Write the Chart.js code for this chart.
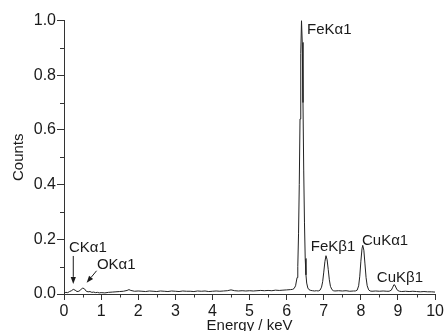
<!DOCTYPE html>
<html><head><meta charset="utf-8">
<script src="https://cdn.jsdelivr.net/npm/chart.js@4/dist/chart.umd.min.js"></script>
<style>html,body{margin:0;padding:0;background:#fff;overflow:hidden}canvas{display:block}</style>
</head><body>
<canvas id="c" width="446" height="331"></canvas>
<script>
// ---- data ----
const energy = [
  0.00,0.05,0.10,0.15,0.20,0.25,0.30,0.35,0.40,0.45,0.50,0.55,0.60,0.65,0.70,0.75,0.80,0.85,0.90,0.95,1.00,
  1.10,1.20,1.30,1.40,1.50,1.60,1.70,1.75,1.80,1.90,2.00,
  2.10,2.20,2.30,2.40,2.50,2.60,2.70,2.80,2.90,3.00,3.10,3.20,3.30,3.40,3.50,3.60,3.70,3.80,3.90,4.00,
  4.10,4.20,4.30,4.40,4.50,4.60,4.70,4.80,4.90,5.00,5.10,5.20,5.30,5.40,5.50,5.60,5.70,5.80,5.90,6.00,6.10,
  6.16,6.20,6.24,6.28,6.30,6.32,6.34,6.36,6.38,6.40,6.42,6.44,6.46,6.48,6.50,6.52,6.54,6.57,6.60,
  6.65,6.70,6.75,6.80,6.85,
  6.90,6.94,6.97,7.00,7.03,7.06,7.09,7.12,7.15,7.18,7.22,7.26,7.30,
  7.40,7.50,7.60,7.70,7.80,
  7.85,7.90,7.94,7.97,8.00,8.03,8.05,8.08,8.11,8.14,8.17,8.21,8.25,
  8.30,8.40,8.50,8.60,8.70,
  8.76,8.82,8.86,8.89,8.92,8.95,8.99,9.04,
  9.10,9.20,9.30,9.40,9.50,9.60,9.70,9.80,9.90,10.00
];
const counts = [
  0.003,0.006,0.005,0.009,0.012,0.017,0.014,0.009,0.010,0.015,0.022,0.019,0.010,0.008,0.009,0.006,0.007,0.005,0.006,0.004,0.005,
  0.004,0.006,0.007,0.008,0.009,0.010,0.013,0.016,0.013,0.010,0.011,
  0.010,0.009,0.011,0.010,0.009,0.011,0.010,0.009,0.011,0.010,0.009,0.011,0.010,0.010,0.009,0.011,0.010,0.011,0.009,0.010,
  0.011,0.010,0.011,0.012,0.015,0.012,0.011,0.012,0.011,0.012,0.011,0.012,0.013,0.012,0.013,0.012,0.014,0.013,0.014,0.015,0.016,
  0.017,0.020,0.030,0.060,0.100,0.220,0.400,0.640,0.880,1.000,0.920,0.700,0.450,0.260,0.130,0.070,0.040,0.022,0.016,
  0.013,0.012,0.011,0.012,0.011,
  0.014,0.025,0.045,0.080,0.118,0.140,0.125,0.090,0.052,0.028,0.016,0.012,0.011,
  0.012,0.011,0.012,0.010,0.011,
  0.011,0.014,0.030,0.065,0.120,0.165,0.178,0.160,0.110,0.060,0.030,0.015,0.011,
  0.010,0.011,0.010,0.011,0.010,
  0.010,0.014,0.025,0.034,0.032,0.022,0.013,0.010,
  0.009,0.010,0.009,0.010,0.009,0.008,0.009,0.008,0.008,0.007
];
const xMinorTicks = [0.5,1.5,2.5,3.5,4.5,5.5,6.5,7.5,8.5,9.5];
const yMinorTicks = [0.1,0.3,0.5,0.7,0.9];
const peakNames = ['CKα1','OKα1','FeKα1','FeKβ1','CuKα1','CuKβ1'];
// label anchors (left, baseline) in data units
const peakLabelX = [0.134, 0.886, 6.55, 6.65, 8.03, 8.43];
const peakLabelY = [0.155, 0.092, 0.951, 0.157, 0.179, 0.045];
// arrows: [x1,y1,x2,y2] in data units, head at (x2,y2)
const arrows = [[0.25,0.139,0.25,0.037],[0.878,0.085,0.61,0.041]];

const FONT = '"Liberation Sans", Arial, Helvetica, sans-serif';
const INK = '#1a1a1a';

const points = energy.map((e,i)=>({x:e, y:counts[i]}));

const extras = {
  id:'extras',
  afterDraw(chart){
    const {ctx, scales:{x,y}} = chart;
    ctx.save();
    ctx.strokeStyle = '#333'; ctx.lineWidth = 1;
    ctx.beginPath();
    const yb = Math.round(y.bottom);
    for (const v of xMinorTicks){
      const px = Math.round(x.getPixelForValue(v)) + 0.5;
      ctx.moveTo(px, yb); ctx.lineTo(px, yb + 3.5);
    }
    const xl = Math.round(x.left);
    for (const v of yMinorTicks){
      const py = Math.round(y.getPixelForValue(v)) + 0.5;
      ctx.moveTo(xl, py); ctx.lineTo(xl - 4, py);
    }
    ctx.stroke();
    // labels
    ctx.fillStyle = INK;
    ctx.font = '15px ' + FONT;
    ctx.textAlign = 'left'; ctx.textBaseline = 'alphabetic';
    peakNames.forEach((t,i)=>{
      ctx.fillText(t, x.getPixelForValue(peakLabelX[i]), y.getPixelForValue(peakLabelY[i]));
    });
    // arrows
    ctx.strokeStyle = INK; ctx.fillStyle = INK;
    arrows.forEach(a=>{
      const x1 = x.getPixelForValue(a[0]), y1 = y.getPixelForValue(a[1]);
      const x2 = x.getPixelForValue(a[2]), y2 = y.getPixelForValue(a[3]);
      const ang = Math.atan2(y2-y1, x2-x1);
      const hl = 7, hw = 2.6;
      const bx = x2 - hl*Math.cos(ang), by = y2 - hl*Math.sin(ang);
      ctx.beginPath(); ctx.moveTo(x1,y1); ctx.lineTo(bx,by); ctx.stroke();
      ctx.beginPath();
      ctx.moveTo(x2,y2);
      ctx.lineTo(bx + hw*Math.sin(ang), by - hw*Math.cos(ang));
      ctx.lineTo(bx - hw*Math.sin(ang), by + hw*Math.cos(ang));
      ctx.closePath(); ctx.fill();
    });
    ctx.restore();
  }
};

new Chart(document.getElementById('c'), {
  type:'line',
  data:{ datasets:[{ data:points, borderColor:'#222', borderWidth:1, pointRadius:0, tension:0, fill:false }] },
  options:{
    responsive:false, animation:false, devicePixelRatio:1,
    layout:{ padding:{ top:20.5, right:9.5, left:0, bottom:0 } },
    plugins:{ legend:{display:false}, tooltip:{enabled:false} },
    scales:{
      x:{
        type:'linear', min:0, max:10,
        afterFit(s){ s.height = 37; },
        ticks:{ stepSize:1, autoSkip:false, maxRotation:0, color:INK, font:{family:FONT, size:16}, padding:2 },
        grid:{ drawOnChartArea:false, drawTicks:true, tickLength:6, color:'#333' },
        border:{ display:true, color:'#333', width:1 },
        title:{ display:true, text:'Energy / keV', color:INK, font:{family:FONT, size:15}, padding:{top:0, bottom:-3.5} }
      },
      y:{
        min:0, max:1,
        afterFit(s){ s.width = 64; },
        ticks:{ stepSize:0.2, color:INK, font:{family:FONT, size:16}, padding:1, callback:v=>v.toFixed(1) },
        grid:{ drawOnChartArea:false, drawTicks:true, tickLength:7, color:'#333' },
        border:{ display:true, color:'#333', width:1 },
        title:{ display:true, text:'Counts', color:INK, font:{family:FONT, size:15}, padding:{top:10, bottom:0} }
      }
    }
  },
  plugins:[extras]
});
</script>
</body></html>
